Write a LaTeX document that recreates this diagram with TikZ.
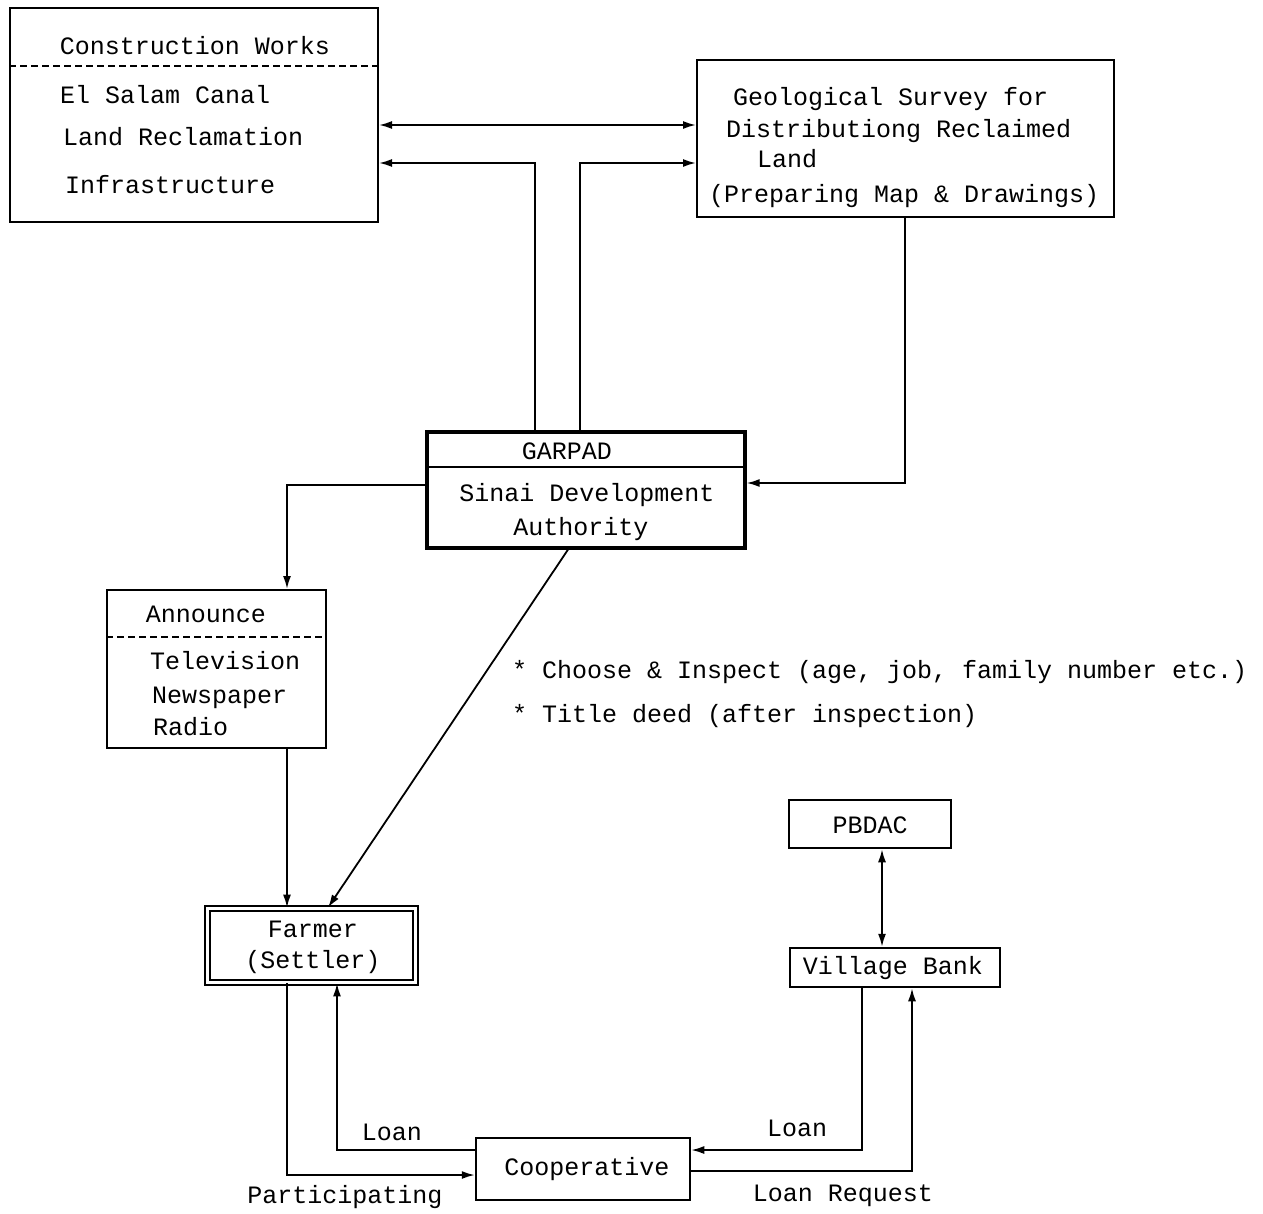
\documentclass[tikz,border=0pt]{standalone}
\usepackage{fontspec}
\setmonofont{Liberation Mono}
\usetikzlibrary{arrows.meta}

\tikzset{
  box/.style={draw, line width=2pt, inner sep=0pt},
  lbl/.style={font=\ttfamily\fontsize{25}{30}\selectfont, inner sep=0pt, text height=16pt, text depth=0pt},
  flow/.style={line width=1.8pt, -{Latex[length=13pt,width=8pt]}},
  dflow/.style={line width=1.8pt, {Latex[length=13pt,width=8pt]}-{Latex[length=13pt,width=8pt]}},
  sep/.style={line width=1.6pt, dash pattern=on 7pt off 4pt},
}

\begin{document}
\begin{tikzpicture}[x=1pt,y=-1pt]
        \useasboundingbox (0,0) rectangle (1263,1213);
        % boxes
        \node[box, minimum width=368pt, minimum height=214pt] (works) at (194,115) {};
        \node[box, minimum width=417pt, minimum height=157pt] (survey) at (905.5,138.5) {};
        \node[box, line width=3.2pt, minimum width=318pt, minimum height=116pt] (garpad) at (586,490) {};
        \node[box, minimum width=219pt, minimum height=158pt] (announce) at (216.5,669) {};
        \node[box, double, double distance=3pt, line width=1.8pt, minimum width=208pt, minimum height=74pt] (farmer) at (311.5,945.5) {};
        \node[box, line width=2.5pt, minimum width=162pt, minimum height=48pt] (pbdac) at (870,824) {};
        \node[box, line width=2.5pt, minimum width=210pt, minimum height=39pt] (bank) at (895,967.5) {};
        \node[box, line width=2.5pt, minimum width=214pt, minimum height=62pt] (coop) at (583,1169) {};
        % separators
        \draw[sep] (works.west |- 0,66) -- (works.east |- 0,66);
        \draw[sep] (announce.west |- 0,637) -- (announce.east |- 0,637);
        \draw[line width=2pt] (garpad.west |- 0,467) -- (garpad.east |- 0,467);
        % texts
        \node[lbl] (worksT) at (195,46) {Construction Works};
        \node[lbl, anchor=west] (works1) at (60,95) {El Salam Canal};
        \node[lbl, anchor=west] (works2) at (63,137) {Land Reclamation};
        \node[lbl, anchor=west] (works3) at (65,185) {Infrastructure};
        \node[lbl, anchor=west] (survey1) at (733,97) {Geological Survey for};
        \node[lbl, anchor=west] (survey2) at (726,129) {Distributiong Reclaimed};
        \node[lbl, anchor=west] (survey3) at (757,159) {Land};
        \node[lbl, anchor=west] (survey4) at (709,194) {(Preparing Map \& Drawings)};
        \node[lbl] (garpadT) at (567,451) {GARPAD};
        \node[lbl] (garpad1) at (587,493) {Sinai Development};
        \node[lbl] (garpad2) at (581,527) {Authority};
        \node[lbl] (announceT) at (206,614) {Announce};
        \node[lbl, anchor=west] (announce1) at (150,661) {Television};
        \node[lbl, anchor=west] (announce2) at (152,695) {Newspaper};
        \node[lbl, anchor=west] (announce3) at (153,727) {Radio};
        \node[lbl, anchor=west] (note1) at (512,670) {* Choose \& Inspect (age, job, family number etc.)};
        \node[lbl, anchor=west] (note2) at (512,714) {* Title deed (after inspection)};
        \node[lbl] (farmer1) at (313,929) {Farmer};
        \node[lbl] (farmer2) at (313,960) {(Settler)};
        \node[lbl] (pbdacT) at (870,825) {PBDAC};
        \node[lbl] (bankT) at (893,966) {Village Bank};
        \node[lbl] (coopT) at (587,1167) {Cooperative};
        \node[lbl] (loanL) at (392,1132) {Loan};
        \node[lbl] (partL) at (345,1195) {Participating};
        \node[lbl] (loanR) at (797,1128) {Loan};
        \node[lbl] (reqR) at (843,1193) {Loan Request};
        % connectors
        \draw[dflow] (works.east |- 0,125) -- (survey.west |- 0,125);
        \draw[flow] (garpad.north -| 535,0) |- (works.east |- 0,163);
        \draw[flow] (garpad.north -| 580,0) |- (survey.west |- 0,163);
        \draw[flow] (survey.south -| 905,0) |- (garpad.east |- 0,483);
        \draw[flow] (garpad.west |- 0,485) -| (announce.north -| 287,0);
        \draw[flow] (announce.south -| 287,0) -- (farmer.north -| 287,0);
        \draw[flow] (garpad.south -| 568,0) -- (farmer.north -| 328,0);
        \draw[dflow] (pbdac.south -| 882,0) -- (bank.north -| 882,0);
        \draw[flow] (farmer.south -| 287,0) |- (coop.west |- 0,1175);
        \draw[flow] (coop.west |- 0,1150) -| (farmer.south -| 337,0);
        \draw[flow] (bank.south -| 862,0) |- (coop.east |- 0,1150);
        \draw[flow] (coop.east |- 0,1171) -| (bank.south -| 912,0);
\end{tikzpicture}
\end{document}
